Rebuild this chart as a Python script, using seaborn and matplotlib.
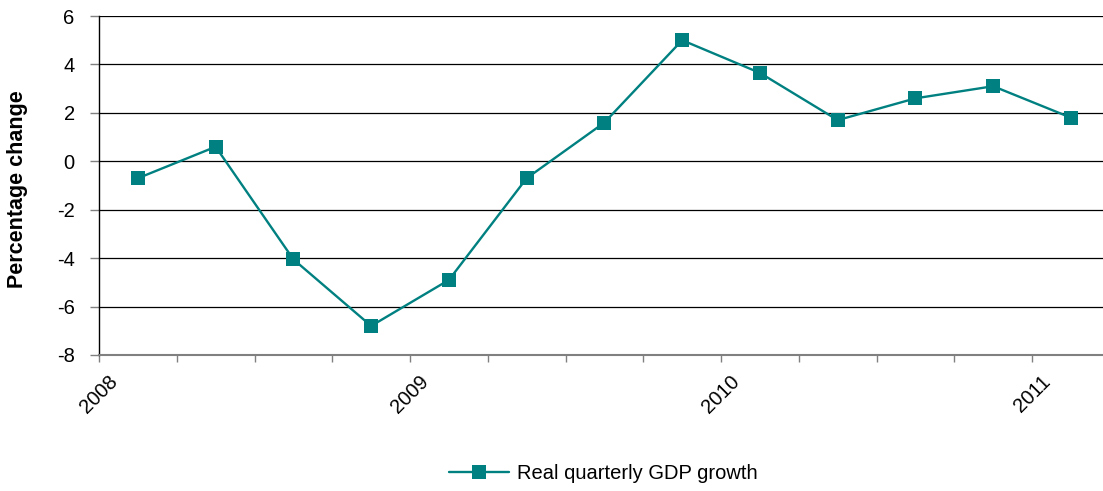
import numpy as np
import pandas as pd
import matplotlib
matplotlib.use("Agg")
import matplotlib.pyplot as plt
import seaborn as sns

# ---- data ----
quarters = ["2008Q1", "2008Q2", "2008Q3", "2008Q4",
            "2009Q1", "2009Q2", "2009Q3", "2009Q4",
            "2010Q1", "2010Q2", "2010Q3", "2010Q4",
            "2011Q1"]
growth = [-0.7, 0.6, -4.05, -6.8, -4.9, -0.7, 1.6, 5.0, 3.65, 1.7, 2.6, 3.1, 1.8]
year_labels = ["2008", "2009", "2010", "2011"]
y_ticks = [-8, -6, -4, -2, 0, 2, 4, 6]
series_name = "Real quarterly GDP growth"
y_label = "Percentage change"

# ---- style ----
sns.set_style("white")
plt.rcParams["font.family"] = ["Liberation Sans", "DejaVu Sans"]
plt.rcParams["axes.unicode_minus"] = False
plt.rcParams["text.color"] = "black"
plt.rcParams["axes.labelcolor"] = "black"
plt.rcParams["xtick.color"] = "black"
plt.rcParams["ytick.color"] = "black"

period = pd.PeriodIndex(quarters, freq="Q")
xpos = np.asarray(period.year + (period.quarter - 0.5) / 4.0, dtype=float)
df = pd.DataFrame({"x": xpos, "y": growth, "series": series_name})

fig = plt.figure(figsize=(11.03, 4.91), dpi=100)
ax = fig.add_axes([99 / 1103, 1 - 355 / 491, (1103 - 99) / 1103, (355 - 16) / 491])

teal = "#008080"
sns.lineplot(data=df, x="x", y="y", hue="series", palette=[teal],
             marker="s", markersize=10.5, markeredgewidth=0,
             linewidth=1.7, ax=ax, legend=True)

first_year = int(year_labels[0])
last_year = int(year_labels[-1])
ax.set_xlim(first_year, last_year + 0.228)
ax.set_ylim(y_ticks[0], y_ticks[-1])

fs = 14.5
qticks = np.arange(first_year, last_year + 0.001, 0.25)
ax.set_xticks(qticks)
ax.set_xticklabels([str(int(t)) if float(t).is_integer() else "" for t in qticks],
                   rotation=45, ha="center", va="top", fontsize=fs)
ax.set_yticks(y_ticks)
ax.set_yticklabels([str(v) for v in y_ticks], fontsize=fs)

ax.yaxis.grid(True, color="#000000", linewidth=0.9)
ax.xaxis.grid(False)
ax.tick_params(axis="x", direction="out", length=5, width=1, color="#808080", pad=7)
ax.tick_params(axis="y", direction="out", length=6.5, width=1, color="#808080", pad=11)
ax.tick_params(bottom=True, left=True)

for s in ["top", "right"]:
    ax.spines[s].set_visible(False)
ax.spines["left"].set_color("#000000")
ax.spines["left"].set_linewidth(1.0)
ax.spines["bottom"].set_color("#808080")
ax.spines["bottom"].set_linewidth(1.5)

ax.set_xlabel("")
ax.set_ylabel(y_label, fontsize=15.5, fontweight="bold")
ax.yaxis.set_label_coords(-0.0707, 0.49)

handles, labels = ax.get_legend_handles_labels()
ax.get_legend().remove()
fig.legend(handles, labels, loc="center", bbox_to_anchor=(0.547, 0.035),
           frameon=False, fontsize=fs, handlelength=3.0, handletextpad=0.4)

fig.savefig("out.png", dpi=100)
